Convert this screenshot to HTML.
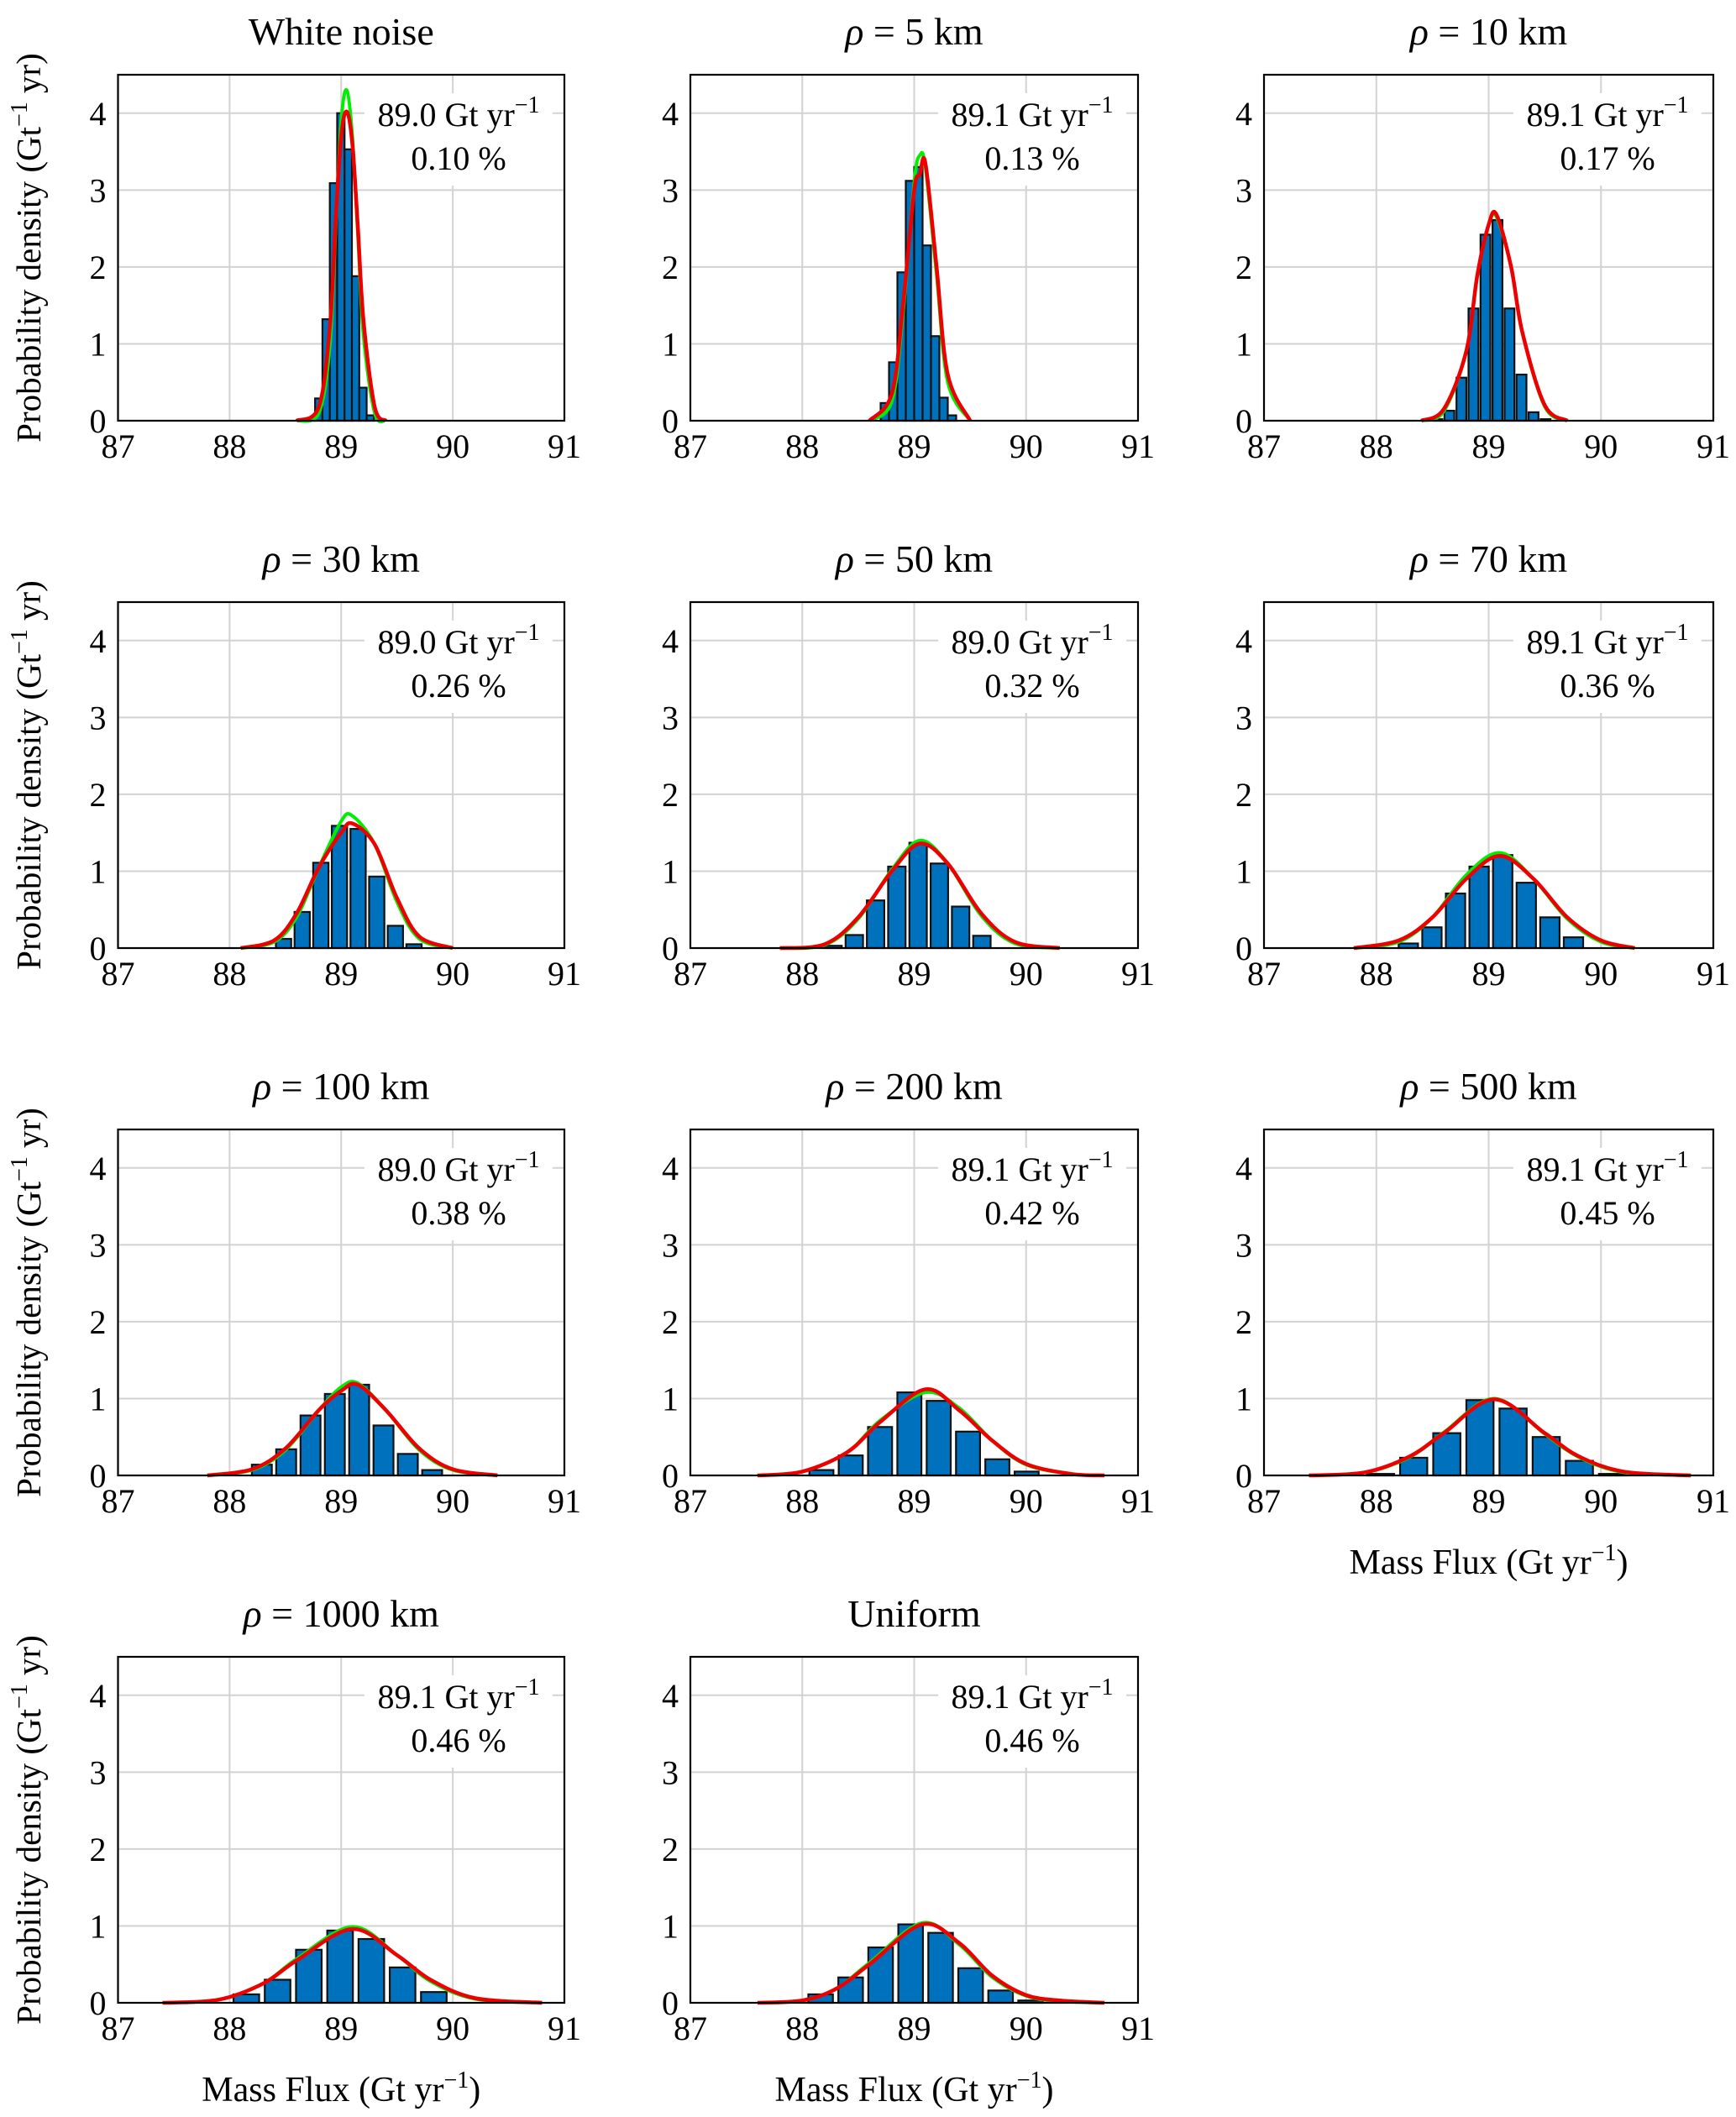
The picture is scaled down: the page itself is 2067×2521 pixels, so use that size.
<!DOCTYPE html>
<html><head><meta charset="utf-8">
<style>
html,body{margin:0;padding:0;background:#fff;}
svg{display:block;font-family:"Liberation Serif",serif;}
</style></head>
<body>
<svg id="fig" width="2067" height="2521" viewBox="0 0 2067 2521" xmlns="http://www.w3.org/2000/svg"></svg>
<script>
// ---- data ----
const titles = ["White noise","ρ = 5 km","ρ = 10 km","ρ = 30 km","ρ = 50 km","ρ = 70 km","ρ = 100 km","ρ = 200 km","ρ = 500 km","ρ = 1000 km","Uniform"];
const meanLabels = ["89.0","89.1","89.1","89.0","89.0","89.1","89.0","89.1","89.1","89.1","89.1"];
const pctLabels = ["0.10","0.13","0.17","0.26","0.32","0.36","0.38","0.42","0.45","0.46","0.46"];
const binStarts = [88.70,88.70,88.49,88.40,88.18,88.18,88.18,88.04,87.89,88.01,88.03];
const binWidths = [0.066,0.075,0.107,0.167,0.19,0.21,0.218,0.262,0.295,0.28,0.268];
const binHeights = [
 [0.03,0.29,1.32,3.09,4.0,3.53,1.88,0.43,0.07],
 [0.23,0.76,1.93,3.12,3.3,2.28,1.10,0.30,0.07],
 [0.02,0.13,0.56,1.46,2.42,2.61,1.46,0.60,0.11,0.02],
 [0.12,0.47,1.11,1.59,1.55,0.93,0.29,0.05],
 [0.03,0.17,0.62,1.06,1.37,1.10,0.54,0.16],
 [0.06,0.27,0.71,1.06,1.21,0.85,0.40,0.14],
 [0.14,0.34,0.78,1.06,1.18,0.65,0.28,0.07],
 [0.07,0.26,0.63,1.08,0.97,0.57,0.21,0.05],
 [0.02,0.23,0.55,0.98,0.87,0.50,0.19,0.02],
 [0.11,0.30,0.69,0.94,0.83,0.46,0.14],
 [0.11,0.33,0.72,1.02,0.91,0.45,0.16,0.03]
];
const curveX = [
 [88.6,88.8,88.9,88.95,89.0,89.05,89.1,89.15,89.2,89.3,89.4],
 [88.6,88.8,88.9,89.0,89.05,89.1,89.2,89.3,89.5],
 [88.4,88.6,88.8,88.9,89.0,89.07,89.2,89.3,89.5,89.7],
 [88.1,88.4,88.6,88.8,89.0,89.1,89.3,89.5,89.7,90.0],
 [87.8,88.2,88.5,88.8,89.05,89.3,89.6,89.9,90.3],
 [87.8,88.2,88.5,88.8,89.1,89.4,89.7,90.0,90.3],
 [87.8,88.2,88.5,88.8,89.0,89.15,89.4,89.7,90.0,90.4],
 [87.6,88.0,88.4,88.7,89.1,89.4,89.7,90.0,90.4,90.7],
 [87.4,87.9,88.3,88.6,89.05,89.5,89.8,90.2,90.8],
 [87.4,87.9,88.3,88.6,89.1,89.5,89.8,90.2,90.8],
 [87.6,88.0,88.3,88.6,89.07,89.4,89.7,90.0,90.3,90.7]
];
const redY = [
 [0,0.18,1.25,2.6,3.7,4.02,3.6,2.5,1.3,0.18,0],
 [0,0.35,1.5,3.0,3.2,3.35,2.0,0.6,0],
 [0,0.15,0.9,1.9,2.55,2.68,2.0,1.15,0.2,0],
 [0,0.1,0.45,1.05,1.5,1.62,1.35,0.65,0.15,0],
 [0,0.05,0.4,1.0,1.36,1.1,0.45,0.08,0],
 [0,0.1,0.4,0.9,1.2,0.9,0.4,0.1,0],
 [0,0.08,0.35,0.85,1.1,1.18,0.85,0.35,0.08,0],
 [0,0.05,0.3,0.7,1.12,0.85,0.45,0.15,0.02,0],
 [0,0.04,0.25,0.55,0.99,0.55,0.25,0.05,0],
 [0,0.04,0.25,0.55,0.96,0.62,0.3,0.06,0],
 [0,0.03,0.18,0.5,1.02,0.78,0.35,0.1,0.03,0]
];
const greenY = [
 [0,0.1,1.0,2.5,3.9,4.3,3.7,2.4,1.1,0.1,0],
 [0,0.25,1.4,3.1,3.45,3.3,1.9,0.5,0],
 [0,0.12,0.9,1.9,2.55,2.65,2.0,1.15,0.18,0],
 [0,0.08,0.4,1.05,1.65,1.72,1.35,0.6,0.12,0],
 [0,0.04,0.38,1.02,1.4,1.1,0.42,0.06,0],
 [0,0.08,0.4,0.95,1.24,0.9,0.38,0.08,0],
 [0,0.07,0.33,0.85,1.15,1.2,0.85,0.33,0.07,0],
 [0,0.05,0.3,0.72,1.08,0.88,0.45,0.14,0.02,0],
 [0,0.04,0.24,0.56,1.0,0.54,0.24,0.04,0],
 [0,0.04,0.25,0.57,0.99,0.62,0.28,0.05,0],
 [0,0.03,0.18,0.52,1.04,0.76,0.33,0.09,0.02,0]
];
const xTicks = [87,88,89,90,91];
const yTicks = [0,1,2,3,4];

// ---- layout ----
const colL = [140.5,822,1505], colR = [672,1355,2040];
const rowT = [89,717,1345,1973], rowB = [501,1129,1757,2385];
const XMIN=87, XMAX=91, YMAX=4.5;
const NS="http://www.w3.org/2000/svg";
const svg=document.getElementById('fig');
function mk(tag,attrs,parent){const e=document.createElementNS(NS,tag);for(const k in attrs)e.setAttribute(k,attrs[k]);(parent||svg).appendChild(e);return e;}

function spline(pts){
  let d=`M${pts[0][0]},${pts[0][1]}`;
  for(let i=0;i<pts.length-1;i++){
    const p0=pts[Math.max(i-1,0)],p1=pts[i],p2=pts[i+1],p3=pts[Math.min(i+2,pts.length-1)];
    const c1x=p1[0]+(p2[0]-p0[0])/6,c1y=p1[1]+(p2[1]-p0[1])/6;
    const c2x=p2[0]-(p3[0]-p1[0])/6,c2y=p2[1]-(p3[1]-p1[1])/6;
    d+=` C${c1x},${c1y} ${c2x},${c2y} ${p2[0]},${p2[1]}`;
  }
  return d;
}

for(let i=0;i<titles.length;i++){
  const c=i%3, r=Math.floor(i/3);
  const L=colL[c],R=colR[c],T=rowT[r],B=rowB[r];
  const xs=v=>L+(v-XMIN)/(XMAX-XMIN)*(R-L);
  const ys=v=>B-v/YMAX*(B-T);
  const g=mk('g',{});
  
  
  xTicks.slice(1,-1).forEach(t=>{const l=mk('line',{x1:xs(t),x2:xs(t),y1:T,y2:B,stroke:'#d2d2d2','stroke-width':2},g);
    });
  yTicks.slice(1).forEach(t=>{const l=mk('line',{x1:L,x2:R,y1:ys(t),y2:ys(t),stroke:'#d2d2d2','stroke-width':2},g);
    });
  const cx=R-126;
  const bg=mk('rect',{x:cx-112,y:T+22,width:224,height:110,fill:'#fff'},g);
  
  const a1=mk('text',{x:cx,y:T+61,'font-size':40,'text-anchor':'middle'},g);
  
  a1.innerHTML=meanLabels[i]+' Gt yr<tspan dy="-16" font-size="28">−1</tspan>';
  const a2=mk('text',{x:cx,y:T+113,'font-size':40,'text-anchor':'middle'},g);
  
  a2.textContent=pctLabels[i]+' %';
  const bw=binWidths[i];
  binHeights[i].forEach((h,k)=>{
    const x0=binStarts[i]+k*bw, w=bw*(i<2?1:0.82);
    const x1=xs(x0+(bw-w)/2), x2=xs(x0+(bw+w)/2);
    const b=mk('rect',{x:x1,y:ys(h),width:x2-x1,height:ys(0)-ys(h),fill:'#0072bd',stroke:'#111','stroke-width':2.2},g);
    
  });
  const gp=mk('path',{d:spline(curveX[i].map((x,k)=>[xs(x),ys(greenY[i][k])])),fill:'none',stroke:'#00ee00','stroke-width':4},g);
  
  const rp=mk('path',{d:spline(curveX[i].map((x,k)=>[xs(x),ys(redY[i][k])])),fill:'none',stroke:'#ee0000','stroke-width':4.5},g);
  
  const fr=mk('rect',{x:L,y:T,width:R-L,height:B-T,fill:'none',stroke:'#000','stroke-width':2.2},g);
  
  xTicks.forEach(t=>{const tx=mk('text',{x:xs(t),y:B+44,'font-size':40,'text-anchor':'middle'},g);
    tx.textContent=t;});
  yTicks.forEach(t=>{const ty=mk('text',{x:L-14,y:ys(t)+14,'font-size':40,'text-anchor':'end'},g);
    ty.textContent=t;});
  const tt=mk('text',{x:(L+R)/2,y:T-36,'font-size':46,'text-anchor':'middle'},g);
  
  if(titles[i].startsWith('ρ')){tt.innerHTML='<tspan font-style="italic">ρ</tspan>'+titles[i].slice(1);}else tt.textContent=titles[i];
  if(c===0){
    const yl=mk('text',{x:0,y:0,'font-size':41,'text-anchor':'middle',transform:`translate(48,${(T+B)/2}) rotate(-90)`},g);
    
    yl.innerHTML='Probability density (Gt<tspan dy="-16" font-size="28">−1</tspan><tspan dy="16"> yr)</tspan>';
  }
  if((r===2&&c===2)||r===3){
    const xl=mk('text',{x:(L+R)/2,y:B+117,'font-size':42,'text-anchor':'middle'},g);
    
    xl.innerHTML='Mass Flux (Gt yr<tspan dy="-16" font-size="28">−1</tspan><tspan dy="16">)</tspan>';
  }
}
</script>
</body></html>
